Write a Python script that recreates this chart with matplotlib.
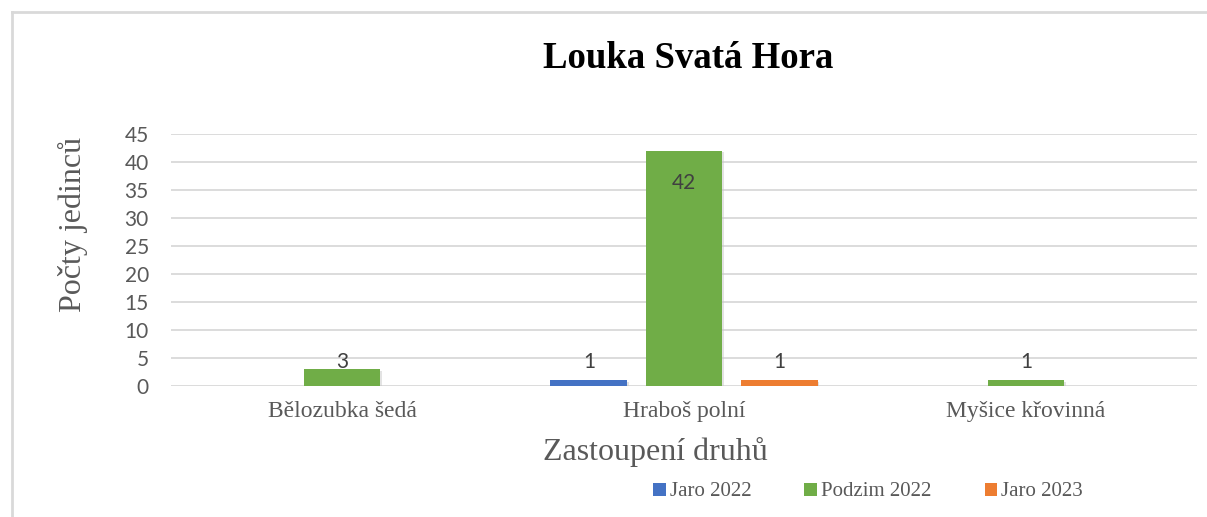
import numpy as np
import matplotlib.pyplot as plt
from matplotlib.lines import Line2D
from matplotlib.patches import Patch
import matplotlib.patheffects as pe

## data
druhy = ['Bělozubka šedá', 'Hraboš polní', 'Myšice křovinná']
serie = ['Jaro 2022', 'Podzim 2022', 'Jaro 2023']
jaro_2022 = [0, 1, 0]
podzim_2022 = [3, 42, 1]
jaro_2023 = [0, 1, 0]
barvy = ['#4472c4', '#70ad47', '#ed7d31']

W, H = 1207, 517
fig = plt.figure(figsize=(W / 100, H / 100), dpi=100)
ax = fig.add_axes([171 / W, 1 - 386 / H, (1197 - 171) / W, (386 - 134) / H])

x = np.arange(len(druhy))
sirka = 0.225   # bar width
krok = 0.278    # spacing between series
hodnoty = [jaro_2022, podzim_2022, jaro_2023]

stin = [pe.SimplePatchShadow(offset=(1, -1), shadow_rgbFace='#c8c8c8', alpha=0.5), pe.Normal()]
for i, (vals, c) in enumerate(zip(hodnoty, barvy)):
    pos = x + (i - 1) * krok
    bars = ax.bar(pos, vals, sirka, color=c, zorder=3, path_effects=stin)
    for b, v in zip(bars, vals):
        if v == 0:
            continue
        xc = b.get_x() + b.get_width() / 2
        if v > 20:
            # inside end
            ax.text(xc, v - 4, str(v), ha='center', va='top',
                    fontsize=15, color='#404040', family='Lato', zorder=4)
        else:
            ax.text(xc, max(v, 3) + 0.2, str(v), ha='center', va='baseline',
                    fontsize=15, color='#404040', family='Lato', zorder=4)

ax.set_xlim(-0.5, 2.5)
ax.set_ylim(0, 45)
ax.set_yticks(np.arange(0, 46, 5))
ax.grid(axis='y', color='#d9d9d9', linewidth=1.3, zorder=0)
ax.set_axisbelow(True)
for s in ax.spines.values():
    s.set_visible(False)
ax.tick_params(axis='both', length=0)
ax.tick_params(axis='y', labelsize=15, labelcolor='#595959', pad=16)
for t in ax.get_yticklabels():
    t.set_family('Lato')
ax.set_xticks(x)
ax.set_xticklabels(druhy, family='Liberation Serif', fontsize=17, color='#595959')
ax.tick_params(axis='x', pad=11)

fig.text(688 / W, 1 - 58 / H, 'Louka Svatá Hora', ha='center', va='center',
         family='Liberation Serif', fontweight='bold', fontsize=26.5, color='black')
fig.text(655 / W, 1 - 452 / H, 'Zastoupení druhů', ha='center', va='center',
         family='Liberation Serif', fontsize=23, color='#595959')
fig.text(73 / W, 1 - 224 / H, 'Počty jedinců', ha='center', va='center', rotation=90,
         family='Liberation Serif', fontsize=23, color='#595959')

# legend
handles = [Patch(facecolor=c, edgecolor='none') for c in barvy]
fig.legend(handles, serie, loc='center', bbox_to_anchor=(868 / W, 1 - 492 / H), ncol=3,
           frameon=False, handlelength=0.6, handleheight=0.6, handletextpad=0.2,
           columnspacing=2.55, prop={'family': 'Liberation Serif', 'size': 15},
           labelcolor='#595959')

# light frame of the original chart area
fig.add_artist(Line2D([12 / W, 12 / W], [0, 1 - 12 / H], color='#d9d9d9', linewidth=2))
fig.add_artist(Line2D([12 / W, 1], [1 - 12 / H, 1 - 12 / H], color='#d9d9d9', linewidth=2))

fig.savefig('out.png', dpi=100)
